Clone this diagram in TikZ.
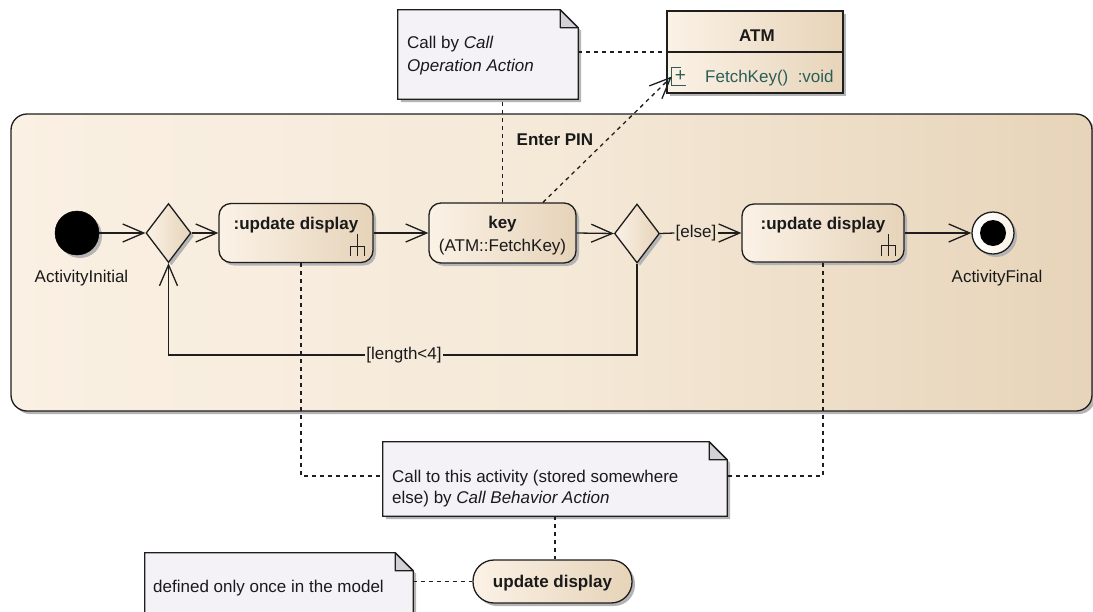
\documentclass[tikz,border=0pt]{standalone}
\usepackage{fontspec}
\setmainfont{Liberation Sans}
\usetikzlibrary{shapes.geometric,shadows,arrows.meta,calc}
\definecolor{textc}{HTML}{1A1A1A}
\definecolor{linec}{HTML}{1E1E1E}
\definecolor{framel}{HTML}{FAF0E3}
\definecolor{framem}{HTML}{F5E9D8}
\definecolor{framer}{HTML}{E7D4B9}
\definecolor{actl}{HTML}{FBF2E6}
\definecolor{actr}{HTML}{E6D3B9}
\definecolor{notefill}{HTML}{F5F2F7}
\definecolor{foldfill}{HTML}{D3D0D6}
\definecolor{shadowc}{HTML}{B4B4B4}
\definecolor{opc}{HTML}{2B5E58}
\newcommand\drawnote[1]{%
  \fill[shadowc] ([xshift=3pt,yshift=-3pt]#1.north west) -- ([xshift=-15pt,yshift=-3pt]#1.north east) -- ([xshift=3pt,yshift=-21pt]#1.north east) -- ([xshift=3pt,yshift=-3pt]#1.south east) -- ([xshift=3pt,yshift=-3pt]#1.south west) -- cycle;
  \filldraw[fill=notefill,draw=linec,line width=1.3pt] (#1.north west) -- ([xshift=-18pt]#1.north east) -- ([yshift=-18pt]#1.north east) -- (#1.south east) -- (#1.south west) -- cycle;
  \filldraw[fill=foldfill,draw=linec,line width=1.3pt,line join=round] ([xshift=-18pt]#1.north east) -- ([xshift=-18pt,yshift=-18pt]#1.north east) -- ([yshift=-18pt]#1.north east) -- cycle;
}
\newcommand\drawrake[1]{%
  \draw[linec,line width=1.3pt] ([xshift=-16pt,yshift=7pt]#1.south east) -- ([xshift=-16pt,yshift=29pt]#1.south east)
    ([xshift=-23pt,yshift=7pt]#1.south east) -- ([xshift=-23pt,yshift=17pt]#1.south east) -- ([xshift=-9pt,yshift=17pt]#1.south east) -- ([xshift=-9pt,yshift=7pt]#1.south east);
}
\begin{document}
\begin{tikzpicture}[x=1pt,y=-1pt,
  txt/.style={font=\fontsize{17}{20}\selectfont, text=textc, inner sep=0pt},
  btxt/.style={font=\fontsize{17}{20}\selectfont\bfseries, text=textc, inner sep=0pt},
  shad/.style={drop shadow={shadow xshift=3pt,shadow yshift=-3pt,fill=shadowc,opacity=1}},
  action/.style={rectangle, rounded corners=12pt, draw=linec, line width=1.3pt, left color=actl, right color=actr, shad, minimum height=59pt, inner sep=0pt},
  decision/.style={diamond, draw=linec, line width=1.3pt, left color=actl, right color=actr, shad, minimum width=45pt, minimum height=59pt, inner sep=0pt},
  notebox/.style={rectangle, draw=none, inner sep=0pt},
  flow/.style={draw=linec, line width=1.3pt, -{Straight Barb[length=21pt,width=18pt,line width=1.3pt]}},
  dep/.style={draw=linec, line width=1.3pt, dash pattern=on 4pt off 4pt},
  guard/.style={font=\fontsize{17}{20}\selectfont, text=textc, inner sep=1pt}
]
\clip (0,0) rectangle (1093,611);

% activity frame
\node (frame) [rectangle, rounded corners=16pt, draw=linec, line width=1.3pt, left color=framel, right color=framer, middle color=framem, shad, minimum width=1081pt, minimum height=297pt, inner sep=0pt] at (551.5,262.5) {};
\node (title) [btxt] at (555,140) {Enter PIN};

% nodes
\node (init) [circle, fill=black, draw=black, minimum size=44pt, inner sep=0pt, shad] at (77,233) {};
\node (initl) [txt] at (81.5,278) {ActivityInitial};
\node (d1) [decision] at (168.5,233) {};
\node (a1) [action, minimum width=154pt] at (296,233) {};
\node (a1t) [btxt] at (296,225) {:update display};
\drawrake{a1}
\node (key) [action, minimum width=147pt, minimum height=60pt] at (502.5,233) {};
\node (keyt) [txt, align=center, font=\fontsize{17}{23}\selectfont] at (502.5,236) {\textbf{key}\\(ATM::FetchKey)};
\node (d2) [decision] at (637,233.5) {};
\node (a3) [action, minimum width=162pt, minimum height=58pt] at (823,233) {};
\node (a3t) [btxt] at (823,225) {:update display};
\drawrake{a3}
\node (fin) [circle, draw=linec, line width=1.3pt, left color=white, right color=actl, minimum size=42pt, inner sep=0pt, shad] at (993,233) {};
\node (fini) [circle, fill=black, minimum size=26pt, inner sep=0pt] at (fin.center) {};
\node (finl) [txt] at (997,278) {ActivityFinal};

% ATM class
\node (atm) [rectangle, draw=linec, line width=1.3pt, left color=actl, right color=framer, shad, minimum width=176pt, minimum height=82pt, inner sep=0pt] at (755,52) {};
\draw[linec, line width=1.3pt] (atm.west) -- (atm.east);
\node (atmt) [btxt] at (757,35.5) {ATM};
\node (opbox) [rectangle, draw=none, minimum width=14pt, minimum height=17pt, inner sep=0pt] at (679,76.5) {};
\draw[opc, line width=1.2pt] ([xshift=-5pt]opbox.north east) -- (opbox.north west) -- (opbox.south west) -- (opbox.south east);
\node (opplus) [text=opc, font=\fontsize{19}{20}\selectfont, inner sep=0pt] at ([xshift=1.5pt,yshift=0.5pt]opbox.center) {+};
\node (opt) [font=\fontsize{17}{20}\selectfont, text=opc, inner sep=0pt, anchor=west] at (705,78) {FetchKey()\ \ :void};

% notes
\node (n1) [notebox, minimum width=180pt, minimum height=89pt] at (488,54.5) {};
\drawnote{n1}
\node (n1t) [txt, align=left, font=\fontsize{17}{23}\selectfont, anchor=west] at (407,56) {Call by \textit{Call}\\\textit{Operation Action}};
\node (n2) [notebox, minimum width=344pt, minimum height=74pt] at (555,479) {};
\drawnote{n2}
\node (n2t) [txt, align=left, font=\fontsize{17}{21}\selectfont, anchor=west] at (392,489) {Call to this activity (stored somewhere\\else) by \textit{Call Behavior Action}};
\node (n3) [notebox, minimum width=268pt, minimum height=72pt] at (279,589) {};
\drawnote{n3}
\node (n3t) [txt, anchor=west] at (153,588) {defined only once in the model};

% behavior
\node (pill) [rectangle, rounded corners=21pt, draw=linec, line width=1.3pt, left color=actl, right color=actr, shad, minimum width=159pt, minimum height=43pt, inner sep=0pt] at (552.5,581.5) {};
\node (pillt) [btxt] at (552.5,583) {update display};

% control flows
\draw[flow] (init.east) -- (d1.west);
\draw[flow] (d1.east) -- (a1.west);
\draw[flow] (a1.east) -- (key.west);
\draw[flow] (key.east) -- (d2.west);
\node (else) [guard] at (696,233) {[else]};
\draw[draw=linec, line width=1.3pt] (d2.east) -- (else.west);
\draw[flow] (else.east) -- (a3.west);
\draw[flow] (a3.east) -- (fin.west);
\node (len) [guard] at (404,355) {[length<4]};
\draw[draw=linec, line width=1.3pt] (d2.south) |- (len.east);
\draw[flow] (len.west) -| (d1.south);

% dependencies
\draw[dep] (atm.west -| n1.east) -- (atm.west);
\draw[dep] (key.north) -- (key.north |- n1.south);
\coordinate (kq) at ([xshift=40.5pt]key.north);
\draw[dep, -{Straight Barb[length=21pt,width=18pt,line width=1.3pt]}] (kq) -- (opbox.west);
\draw[dep] ([xshift=5pt]a1.south) |- ([yshift=3pt]n2.west);
\draw[dep] (a3.south) |- ([yshift=3pt]n2.east);
\draw[dep] (n2.south) -- (n2.south |- pill.north);
\draw[dep] (n3.east |- pill.west) -- (pill.west);
\end{tikzpicture}
\end{document}
